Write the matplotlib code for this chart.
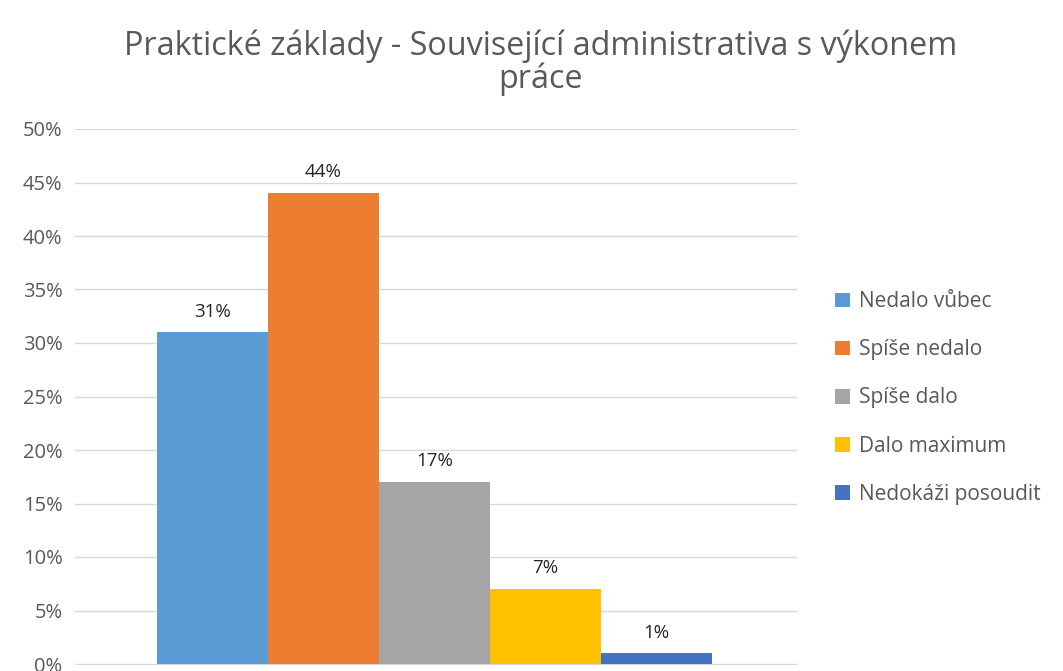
import matplotlib
matplotlib.use('Agg')
import matplotlib.pyplot as plt
from matplotlib.patches import Patch
from matplotlib.ticker import FuncFormatter

categories = ['Nedalo vůbec', 'Spíše nedalo', 'Spíše dalo', 'Dalo maximum', 'Nedokáži posoudit']
values = [0.31, 0.44, 0.17, 0.07, 0.01]
labels = ['31%', '44%', '17%', '7%', '1%']
colors = ['#5B9BD5', '#ED7D31', '#A5A5A5', '#FFC000', '#4472C4']

plt.rcParams['font.family'] = ['Open Sans', 'DejaVu Sans']

W, H = 1063, 671
fig = plt.figure(figsize=(W / 100, H / 100), dpi=100)
ax = fig.add_axes([75 / W, 1 - 664 / H, (797 - 75) / W, (664 - 129) / H])

bw = 111 / 722
start = (157 - 75) / 722 - 0.5
xs = [start + bw * (i + 0.5) for i in range(len(values))]
ax.bar(xs, values, width=bw, color=colors, zorder=3)
for x, v, t in zip(xs, values, labels):
    ax.text(x, v + 0.011, t, ha='center', va='bottom', fontsize=13.5, color='#262626')

ax.set_xlim(-0.5, 0.5)
ax.set_ylim(0, 0.5)
ax.set_yticks([i * 0.05 for i in range(11)])
ax.yaxis.set_major_formatter(FuncFormatter(lambda v, p: f'{round(v * 100)}%'))
ax.tick_params(axis='y', length=0, labelsize=14.5, labelcolor='#595959', pad=9)
ax.set_xticks([])
ax.grid(axis='y', color='#D9D9D9', linewidth=1, zorder=0)
for s in ['top', 'right', 'left']:
    ax.spines[s].set_visible(False)
ax.spines['bottom'].set_color('#D9D9D9')

fig.text(541 / W, 1 - 63 / H, 'Praktické základy - Související administrativa s výkonem\npráce',
         ha='center', va='center', fontsize=23.3, color='#595959', linespacing=1.0)

handles = [Patch(facecolor=c) for c in colors]
fig.legend(handles, categories, loc='upper left', bbox_to_anchor=(827 / W, 1 - 283 / H),
           frameon=False, fontsize=15, labelcolor='#595959', handlelength=0.7,
           handleheight=0.7, handletextpad=0.45, labelspacing=1.3, borderaxespad=0)

fig.savefig('out.png', dpi=100, facecolor='white')
